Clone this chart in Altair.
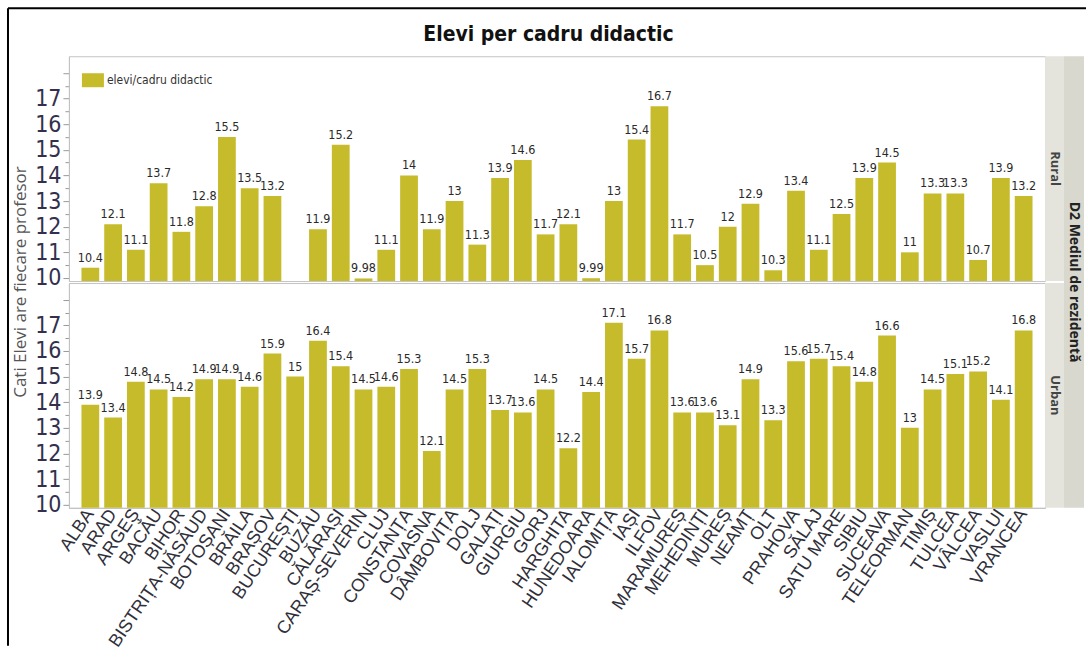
import altair as alt
import pandas as pd

# Counties, in axis order
judete = [
    "ALBA", "ARAD", "ARGEȘ", "BACĂU", "BIHOR", "BISTRIȚA-NĂSĂUD", "BOTOȘANI",
    "BRĂILA", "BRAȘOV", "BUCUREȘTI", "BUZĂU", "CĂLĂRAȘI", "CARAȘ-SEVERIN",
    "CLUJ", "CONSTANȚA", "COVASNA", "DÂMBOVIȚA", "DOLJ", "GALAȚI", "GIURGIU",
    "GORJ", "HARGHITA", "HUNEDOARA", "IALOMIȚA", "IAȘI", "ILFOV", "MARAMUREȘ",
    "MEHEDINȚI", "MUREȘ", "NEAMȚ", "OLT", "PRAHOVA", "SĂLAJ", "SATU MARE",
    "SIBIU", "SUCEAVA", "TELEORMAN", "TIMIȘ", "TULCEA", "VÂLCEA", "VASLUI",
    "VRANCEA",
]

# Pupils per teacher, rural schools (no rural value for the capital)
rural = [
    10.4, 12.1, 11.1, 13.7, 11.8, 12.8, 15.5, 13.5, 13.2, None, 11.9, 15.2,
    9.98, 11.1, 14, 11.9, 13, 11.3, 13.9, 14.6, 11.7, 12.1, 9.99, 13, 15.4,
    16.7, 11.7, 10.5, 12, 12.9, 10.3, 13.4, 11.1, 12.5, 13.9, 14.5, 11, 13.3,
    13.3, 10.7, 13.9, 13.2,
]

# Pupils per teacher, urban schools
urban = [
    13.9, 13.4, 14.8, 14.5, 14.2, 14.9, 14.9, 14.6, 15.9, 15, 16.4, 15.4,
    14.5, 14.6, 15.3, 12.1, 14.5, 15.3, 13.7, 13.6, 14.5, 12.2, 14.4, 17.1,
    15.7, 16.8, 13.6, 13.6, 13.1, 14.9, 13.3, 15.6, 15.7, 15.4, 14.8, 16.6,
    13, 14.5, 15.1, 15.2, 14.1, 16.8,
]

medii = ["Rural", "Urban"]
serie = "elevi/cadru didactic"
titlu = "Elevi per cadru didactic"
titlu_y = "Cati Elevi are fiecare profesor"
titlu_fateta = "D2 Mediul de rezidentă"

y_ticks = [10 + 0.5 * i for i in range(17)]  # 10 .. 18 every half unit
y_domain = [9.88, 18.65]

rows = []
for mediu, vals in zip(medii, [rural, urban]):
    for j, v in zip(judete, vals):
        rows.append({
            "judet": j,
            "mediu": mediu,
            "val": v,
            "eticheta": "" if v is None else f"{v:g}",
            "serie": serie,
        })
df = pd.DataFrame(rows)

W = 977
H = 225
SP = 2
BAR = "#c6bb2b"
COND = "'DejaVu Sans Condensed', 'Liberation Sans Narrow', 'Liberation Sans', sans-serif"

base = alt.Chart(df)

x_enc = alt.X(
    "judet:N",
    sort=judete,
    scale=alt.Scale(paddingInner=0.22, paddingOuter=0.55),
    axis=alt.Axis(
        title=None,
        labelAngle=304,
        labelFont="Liberation Sans",
        labelFontSize=18,
        labelColor="#2f2f3a",
        labelPadding=3,
        ticks=False,
        domainColor="#b0b0b0",
    ),
)
y_enc = alt.Y(
    "val:Q",
    scale=alt.Scale(domain=y_domain, nice=False, zero=False),
    axis=alt.Axis(
        title=None,
        values=y_ticks,
        labelExpr="(datum.value % 1 === 0 && datum.value <= 17) ? toString(datum.value) : ''",
        labelFont=COND,
        labelFontSize=23,
        labelColor="#33304d",
        labelPadding=2,
        tickSize={"condition": {"test": "datum.value % 1 === 0", "value": 6}, "value": 4},
        tickColor="#9a9a9a",
        domainColor="#b0b0b0",
        grid=False,
    ),
)

valid = base.transform_filter("isValid(datum.val)")

bars = valid.mark_bar(color=BAR).encode(
    x=x_enc, y=y_enc, y2=alt.datum(y_domain[0])
)

labels = valid.mark_text(
    baseline="bottom", dy=-3, font=COND, fontSize=12.5, color="#2a2a2a"
).encode(x=x_enc, y=y_enc, text="eticheta:N")

# one datum per panel for the panel strips
one = base.transform_filter(alt.datum.judet == judete[0])
rural_only = one.transform_filter(alt.datum.mediu == medii[0])

strip = one.mark_rect(color="#e4e4dd").encode(
    x=alt.value(W), x2=alt.value(W + 19), y=alt.value(0), y2=alt.value(H)
)
strip_text = one.mark_text(
    angle=90, font="Open Sans", fontSize=13, fontWeight="bold", color="#444444"
).encode(x=alt.value(W + 9.5), y=alt.value(H / 2), text="mediu:N")

outer = rural_only.mark_rect(color="#d8d8ce").encode(
    x=alt.value(W + 19), x2=alt.value(W + 39), y=alt.value(0), y2=alt.value(2 * H + SP)
)
outer_text = rural_only.mark_text(
    angle=90, font="Open Sans", fontSize=14, fontWeight="bold", color="#222222"
).encode(x=alt.value(W + 29), y=alt.value(H + SP / 2), text=alt.value(titlu_fateta))

y_title = rural_only.mark_text(
    angle=270, font="Open Sans", fontSize=17, color="#555555"
).encode(x=alt.value(-48), y=alt.value(H + SP / 2), text=alt.value(titlu_y))

chart_title = rural_only.mark_text(
    font=COND, fontSize=21, fontWeight="bold", color="#111111"
).encode(x=alt.value(480), y=alt.value(-21), text=alt.value(titlu))

legend_box = rural_only.mark_rect(color=BAR).encode(
    x=alt.value(13), x2=alt.value(35), y=alt.value(17), y2=alt.value(31)
)
legend_text = rural_only.mark_text(
    align="left", font=COND, fontSize=12, color="#333333"
).encode(x=alt.value(38), y=alt.value(24), text="serie:N")

# thin black frame along the top and left edges
frame_left = rural_only.mark_rule(color="black", strokeWidth=2).encode(
    x=alt.value(-61), y=alt.value(-48), y2=alt.value(590)
)
frame_top = rural_only.mark_rule(color="black", strokeWidth=2).encode(
    x=alt.value(-61), x2=alt.value(1018), y=alt.value(-48)
)

panel = alt.layer(
    bars, labels, strip, strip_text, outer, outer_text, y_title,
    chart_title, legend_box, legend_text, frame_left, frame_top,
).properties(width=W, height=H)

chart = (
    panel.facet(
        row=alt.Row("mediu:N", sort=medii, header=alt.Header(labels=False, title=None)),
        spacing=SP,
        bounds="flush",
    )
    .properties(padding={"left": 6, "top": 6, "right": 0, "bottom": 0})
    .configure_view(stroke="#c4c4c4")
)

chart.save("out.html", embed_options={"renderer": "svg", "actions": False})
